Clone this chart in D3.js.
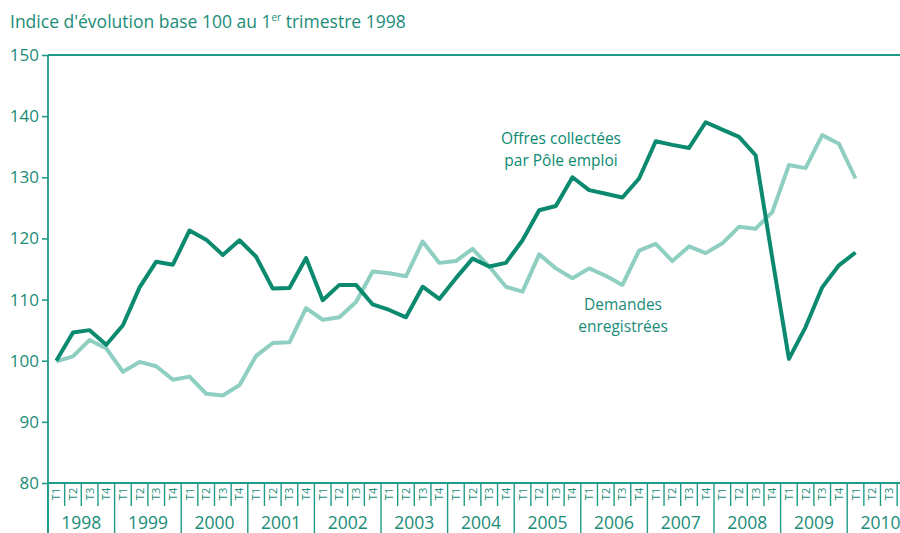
<!DOCTYPE html>
<html>
<head>
<meta charset="utf-8">
<script src="https://cdn.jsdelivr.net/npm/d3@7"></script>
<style>
  body { margin: 0; background: #fff; }
  svg { display: block; }
  text { font-family: "Open Sans", "Noto Sans", sans-serif; }
</style>
</head>
<body>
<svg id="chart" width="900" height="533"></svg>
<script>
const years = ["1998","1999","2000","2001","2002","2003","2004","2005","2006","2007","2008","2009","2010"];
const quarterLabels = ["T1","T2","T3","T4"];
const yTicks = [80, 90, 100, 110, 120, 130, 140, 150];

// Offres collectées par Pôle emploi (1998T1 .. 2010T1)
const offres = [
  100.0, 104.6, 105.0, 102.6, 105.8, 112.0, 116.2, 115.7,
  121.3, 119.8, 117.3, 119.7, 117.0, 111.8, 111.9, 116.8,
  109.9, 112.4, 112.4, 109.2, 108.3, 107.1, 112.1, 110.1,
  113.5, 116.7, 115.4, 116.0, 119.7, 124.6, 125.3, 130.0,
  127.9, 127.3, 126.7, 129.8, 135.9, 135.3, 134.8, 139.0,
  137.8, 136.6, 133.6, 116.8, 100.3, 105.5, 112.0, 115.6, 117.7
];
// Demandes enregistrées (1998T1 .. 2010T1)
const demandes = [
  99.9, 100.7, 103.4, 102.0, 98.2, 99.8, 99.1, 96.9,
  97.4, 94.6, 94.3, 96.0, 100.8, 102.9, 103.0, 108.6,
  106.7, 107.1, 109.6, 114.6, 114.3, 113.8, 119.5, 116.0,
  116.3, 118.3, 115.4, 112.1, 111.3, 117.4, 115.1, 113.5,
  115.1, 113.9, 112.4, 118.0, 119.1, 116.3, 118.7, 117.6,
  119.2, 121.9, 121.6, 124.3, 132.0, 131.5, 136.9, 135.5, 129.8
];

const quarters = [];
years.forEach(yr => quarterLabels.forEach(q => quarters.push(yr + q)));

const svg = d3.select("#chart");
const W = 900, H = 533;
const mLeft = 48, mTop = 55, mBottom = 483;
const qw = 16.65;

const x = d3.scaleBand().domain(quarters).range([mLeft, mLeft + quarters.length * qw]).padding(0);
const xYear = d3.scaleBand().domain(years).range([mLeft, mLeft + quarters.length * qw]).padding(0);
const y = d3.scaleLinear().domain([80, 150]).range([mBottom, mTop]);

const axisColor = "#1f9c87";
const textColor = "#1a8c78";
const darkColor = "#0b8a70";
const lightColor = "#8fcfc1";

// Title
const title = svg.append("text")
  .attr("x", 10).attr("y", 28)
  .attr("fill", textColor)
  .attr("font-size", 17.5);
title.append("tspan").text("Indice d'évolution base 100 au 1");
title.append("tspan").text("er").attr("font-size", 10).attr("dy", -7);
title.append("tspan").text(" trimestre 1998").attr("dy", 7);

// Y axis
const yAxis = d3.axisLeft(y).tickValues(yTicks).tickSize(6).tickPadding(3);
const gy = svg.append("g").attr("transform", `translate(${mLeft},0)`).call(yAxis);
gy.select(".domain").remove();
gy.selectAll(".tick line").attr("stroke", axisColor).attr("stroke-width", 1.6);
gy.selectAll(".tick text").attr("fill", textColor).attr("font-size", 17)
  .attr("font-family", "'Open Sans', sans-serif");

// Frame lines
svg.append("line").attr("x1", mLeft).attr("x2", W).attr("y1", y(150)).attr("y2", y(150))
  .attr("stroke", axisColor).attr("stroke-width", 1.8);
svg.append("line").attr("x1", mLeft).attr("x2", W).attr("y1", y(80)).attr("y2", y(80))
  .attr("stroke", axisColor).attr("stroke-width", 1.8);
svg.append("line").attr("x1", mLeft).attr("x2", mLeft).attr("y1", y(150)).attr("y2", H)
  .attr("stroke", axisColor).attr("stroke-width", 1.8);

// Quarter separators and labels
const gq = svg.append("g");
quarters.forEach((q, i) => {
  const x0 = x(q);
  if (x0 > W) return;
  const isYearStart = i % 4 === 0;
  gq.append("line")
    .attr("x1", x0).attr("x2", x0)
    .attr("y1", mBottom).attr("y2", isYearStart ? H : 506)
    .attr("stroke", axisColor).attr("stroke-width", 1.4);
  const cx = x0 + x.bandwidth() / 2;
  if (cx + 8 > W) return;
  gq.append("text")
    .attr("transform", `translate(${cx + 4},494) rotate(-90)`)
    .attr("text-anchor", "middle")
    .attr("fill", textColor)
    .attr("font-size", 11)
    .text(quarterLabels[i % 4]);
});

// Year labels
years.forEach(yr => {
  svg.append("text")
    .attr("x", xYear(yr) + xYear.bandwidth() / 2)
    .attr("y", 529)
    .attr("text-anchor", "middle")
    .attr("fill", textColor)
    .attr("font-size", 17.5)
    .text(yr);
});

// Lines
const line = d3.line()
  .x((d, i) => x(quarters[i]) + x.bandwidth() / 2)
  .y(d => y(d));

svg.append("path").datum(demandes).attr("d", line)
  .attr("fill", "none").attr("stroke", lightColor).attr("stroke-width", 4)
  .attr("stroke-linejoin", "round");
svg.append("path").datum(offres).attr("d", line)
  .attr("fill", "none").attr("stroke", darkColor).attr("stroke-width", 4)
  .attr("stroke-linejoin", "round");

// Series labels
const lab1 = svg.append("text").attr("fill", darkColor).attr("font-size", 15.5).attr("text-anchor", "middle");
lab1.append("tspan").attr("x", 561).attr("y", 144).text("Offres collectées");
lab1.append("tspan").attr("x", 561).attr("y", 166).text("par Pôle emploi");

const lab2 = svg.append("text").attr("fill", textColor).attr("font-size", 15.5).attr("text-anchor", "middle");
lab2.append("tspan").attr("x", 623).attr("y", 310).text("Demandes");
lab2.append("tspan").attr("x", 623).attr("y", 332).text("enregistrées");
</script>
</body>
</html>
